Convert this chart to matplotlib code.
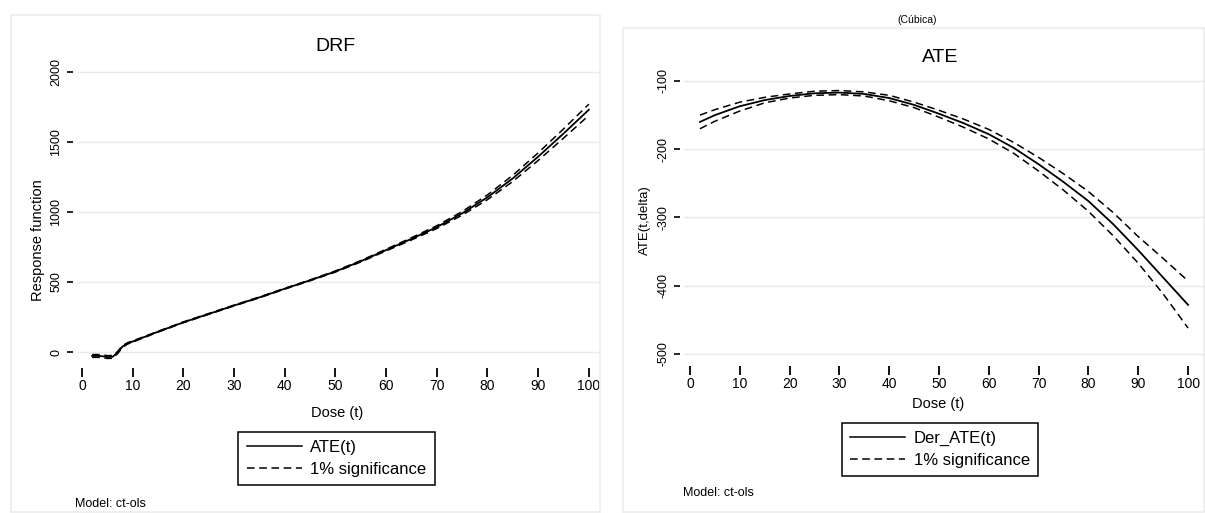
import numpy as np
import matplotlib
matplotlib.use("Agg")
import matplotlib.pyplot as plt
from matplotlib.patches import Rectangle
from matplotlib.lines import Line2D

NARROW = ["Liberation Sans Narrow", "Liberation Sans", "DejaVu Sans"]
plt.rcParams["font.family"] = ["Liberation Sans", "DejaVu Sans"]
plt.rcParams["axes.unicode_minus"] = False

# DRF panel
drf_dose = [2, 3, 4, 5, 6, 7, 8, 9, 10, 15, 20, 25, 30, 35, 40, 45, 50,
            55, 60, 65, 70, 75, 80, 85, 90, 95, 100]
drf_est = [-28, -28, -30, -36, -35, -5, 40, 62, 75, 145, 212, 272, 332, 390,
           452, 512, 575, 648, 728, 808, 892, 990, 1105, 1240, 1395, 1560, 1730]
drf_half = [10, 10, 10, 10, 10, 8, 6, 5, 4, 3, 3, 3, 3, 3, 3, 3, 4, 5, 6, 8,
            10, 13, 17, 22, 27, 33, 40]

# ATE panel
ate_dose = [2, 5, 10, 15, 20, 25, 30, 35, 40, 45, 50, 55, 60, 65, 70, 75,
            80, 85, 90, 95, 100]
ate_est = [-160, -150, -137, -128, -122, -118, -117, -119, -125, -135, -148,
           -162, -178, -198, -222, -248, -276, -310, -348, -388, -428]
ate_up = [-150, -142, -131, -124, -119, -115, -114, -116, -121, -131, -143,
          -156, -171, -190, -212, -236, -262, -293, -328, -360, -393]
ate_lo = [-170, -159, -144, -132, -125, -121, -120, -122, -129, -139, -153,
          -168, -185, -206, -232, -260, -291, -327, -367, -412, -462]

x_ticks = list(range(0, 101, 10))
drf_yticks = [0, 500, 1000, 1500, 2000]
ate_yticks = [-500, -400, -300, -200, -100]

W, H = 1205, 513
fig = plt.figure(figsize=(W / 100, H / 100), dpi=100)
fig.patch.set_facecolor("white")


def px_axes(l, t, r, b):
  return fig.add_axes([l / W, 1 - b / H, (r - l) / W, (b - t) / H])


def fx(x):
  return x / W


def fy(y):
  return 1 - y / H


# faint panel frames
for (l, t, r, b) in [(11, 15, 600, 512), (623, 28, 1204, 512)]:
  fig.patches.append(Rectangle((fx(l), fy(b)), fx(r - l), (b - t) / H,
                               transform=fig.transFigure, fill=False,
                               edgecolor="#ececec", lw=1.2))


def style_axes(ax, yticks):
  for s in ax.spines.values():
    s.set_color("none")
  ax.spines["bottom"].set_position(("outward", 4))
  ax.spines["left"].set_position(("outward", 3))
  ax.set_xticks(x_ticks)
  ax.set_yticks(yticks)
  ax.tick_params(axis="x", length=6.5, width=1.3, pad=2, labelsize=10)
  ax.tick_params(axis="y", length=4.5, width=1.2, pad=3, labelsize=9,
                 labelrotation=90)
  for lab in ax.get_xticklabels():
    lab.set_family(NARROW)
  for lab in ax.get_yticklabels():
    lab.set_va("center")
  ax.grid(axis="y", color="#eaeaea", lw=1)
  ax.set_axisbelow(True)


def draw_bands(ax, x, est, up, lo):
  ax.plot(x, est, color="black", lw=1.3)
  for band in (up, lo):
    ln, = ax.plot(x, band, color="black", lw=1.1)
    ln.set_dashes((5, 3))


# left panel
ax1 = px_axes(77, 62, 600, 362)
drf_up = np.array(drf_est) + np.array(drf_half)
drf_lo = np.array(drf_est) - np.array(drf_half)
draw_bands(ax1, drf_dose, drf_est, drf_up, drf_lo)
ax1.set_xlim(-0.99, 102.2)
ax1.set_ylim(-71.4, 2071)
style_axes(ax1, drf_yticks)

# right panel
ax2 = px_axes(684, 70, 1205, 360)
draw_bands(ax2, ate_dose, ate_est, ate_up, ate_lo)
ax2.set_xlim(-1.2, 103.4)
ax2.set_ylim(-508.8, -83.9)
style_axes(ax2, ate_yticks)

# texts
fig.text(fx(335), fy(47), "DRF", fontsize=14, ha="center", va="center",
         family=NARROW)
fig.text(fx(940), fy(57), "ATE", fontsize=14, ha="center", va="center",
         family=NARROW)
fig.text(fx(917), fy(20), "(Cúbica)", fontsize=7.5, ha="center", va="center")
fig.text(fx(38), fy(240), "Response function", fontsize=10.5, rotation=90,
         ha="center", va="center")
fig.text(fx(645), fy(220), "ATE(t,delta)", fontsize=9.5, rotation=90,
         ha="center", va="center")
fig.text(fx(337), fy(413), "Dose (t)", fontsize=10.5, ha="center",
         va="center", family=NARROW)
fig.text(fx(938), fy(404), "Dose (t)", fontsize=10.5, ha="center",
         va="center", family=NARROW)
fig.text(fx(75), fy(504), "Model: ct-ols", fontsize=9, ha="left",
         va="center", family=NARROW)
fig.text(fx(683), fy(493), "Model: ct-ols", fontsize=9, ha="left",
         va="center", family=NARROW)


# legends
def make_legend(label, cx, cy):
  h1 = Line2D([], [], color="black", lw=1.1)
  h2 = Line2D([], [], color="black", lw=1.1)
  h2.set_dashes((5, 3))
  leg = fig.legend([h1, h2], [label, "1% significance"],
                   loc="center", bbox_to_anchor=(fx(cx), fy(cy)),
                   bbox_transform=fig.transFigure, frameon=True,
                   fancybox=False, framealpha=1, edgecolor="black",
                   handlelength=3.3, handletextpad=0.5, borderpad=0.5,
                   labelspacing=0.4, prop={"family": NARROW, "size": 12})
  leg.get_frame().set_linewidth(1.1)
  return leg


make_legend("ATE(t)", 336.5, 458.5)
make_legend("Der_ATE(t)", 940, 449.5)

fig.savefig("out.png", dpi=100)
